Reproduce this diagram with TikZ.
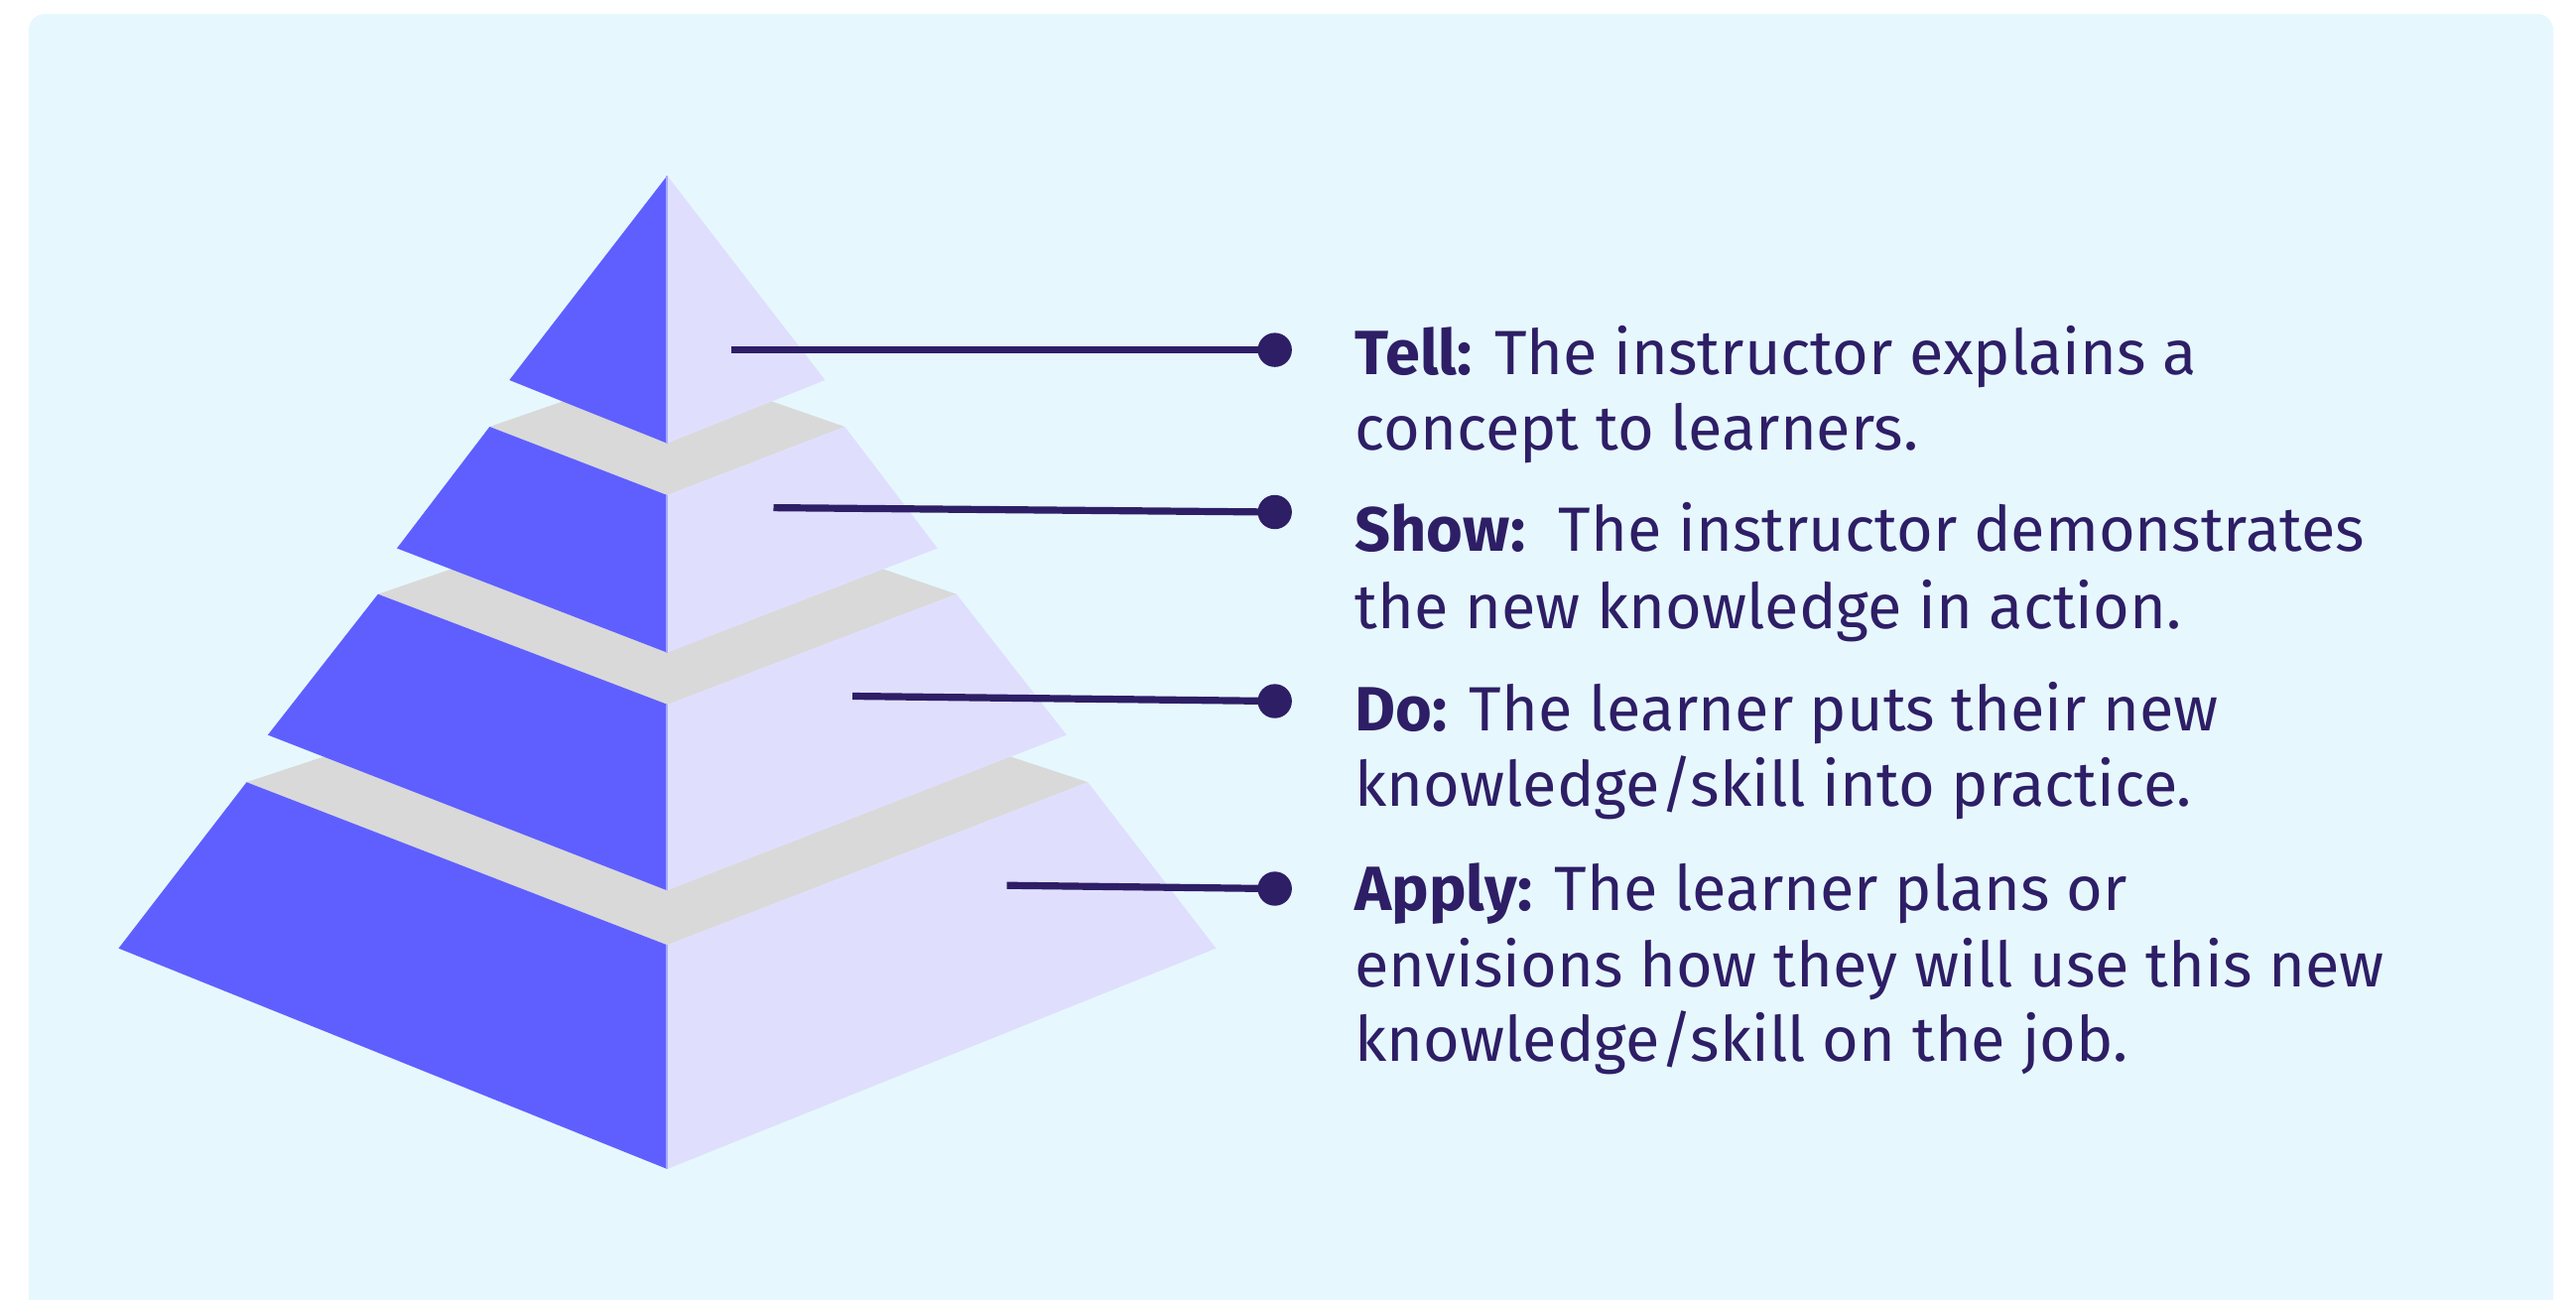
\documentclass[tikz,border=0pt]{standalone}
\usepackage{fontspec}
\setmainfont{Fira Sans}
\definecolor{bgcol}{HTML}{E6F8FD}
\definecolor{blueface}{HTML}{5F5FFF}
\definecolor{lavface}{HTML}{DFDFFD}
\definecolor{greyface}{HTML}{D9D9D9}
\definecolor{seamcol}{HTML}{A9A9FA}
\definecolor{navy}{HTML}{2E1E66}
\begin{document}
\begin{tikzpicture}[x=0.25pt,y=-0.25pt,
  leftface/.style={fill=blueface},
  rightface/.style={fill=lavface},
  topface/.style={fill=greyface},
  seam/.style={draw=seamcol,line width=0.5pt},
  connector/.style={draw=navy,line width=1.8pt},
  enddot/.style={circle,fill=navy,inner sep=0pt,minimum size=8.6pt},
  desc/.style={anchor=base west,inner sep=0pt,text=navy,font=\fontsize{15.75pt}{19pt}\selectfont}]
\useasboundingbox (0,0) rectangle (2596,1309);
\begin{scope}
\clip (0,0) rectangle (2596,1309);
\fill[bgcol,rounded corners=4pt] (29,14) rectangle (2573,1330);
\end{scope}
% Tier 4 (Apply)
\fill[topface] (248.5,788.2) -- (672.4,648) -- (1096.3,788.2) -- (672.4,952.3) -- cycle;
\fill[leftface] (248.5,788.2) -- (672.4,952.3) -- (672.4,1178) -- (119.5,955.6) -- cycle;
\fill[rightface] (1096.3,788.2) -- (672.4,952.3) -- (672.4,1178) -- (1225.5,955.6) -- cycle;
\draw[seam] (672.4,952.3) -- (672.4,1178);
% Tier 3 (Do)
\fill[topface] (380.9,598.7) -- (672.4,499) -- (963.9,598.7) -- (672.4,709.8) -- cycle;
\fill[leftface] (380.9,598.7) -- (672.4,709.8) -- (672.4,897.3) -- (269.9,740.6) -- cycle;
\fill[rightface] (963.9,598.7) -- (672.4,709.8) -- (672.4,897.3) -- (1074.9,740.6) -- cycle;
\draw[seam] (672.4,709.8) -- (672.4,897.3);
% Tier 2 (Show)
\fill[topface] (493.4,430) -- (672.4,368) -- (851.4,430) -- (672.4,499) -- cycle;
\fill[leftface] (493.4,430) -- (672.4,499) -- (672.4,657.6) -- (400,552.5) -- cycle;
\fill[rightface] (851.4,430) -- (672.4,499) -- (672.4,657.6) -- (944.8,552.5) -- cycle;
\draw[seam] (672.4,499) -- (672.4,657.6);
% Tier 1 (Tell)
\fill[leftface] (672.4,177) -- (513.3,383) -- (672.4,446.7) -- cycle;
\fill[rightface] (672.4,177) -- (831.5,383) -- (672.4,446.7) -- cycle;
\draw[seam] (672.4,177) -- (672.4,446.7);
% connectors
\coordinate (tellS) at (736.5,352.6);
\coordinate (showS) at (779.5,511.6);
\coordinate (doS) at (859.2,701.5);
\coordinate (applyS) at (1014.7,892.2);
\node[enddot] (tellD) at (1284.7,352.6) {};
\node[enddot] (showD) at (1284.7,516) {};
\node[enddot] (doD) at (1284.7,706.5) {};
\node[enddot] (applyD) at (1284.7,895.5) {};
\draw[connector] (tellS) -- (tellD.center);
\draw[connector] (showS) -- (showD.center);
\draw[connector] (doS) -- (doD.center);
\draw[connector] (applyS) -- (applyD.center);
% texts
\node[desc] (tellA) at (1364.8,377.5) {\textbf{Tell:} The instructor explains a};
\node[desc] (tellB) at (1364.8,453.5) {concept to learners.};
\node[desc] (showA) at (1364.8,555.5) {\textbf{Show:}\ \ The instructor demonstrates};
\node[desc] (showB) at (1364.8,633) {the new knowledge in action.};
\node[desc] (doA) at (1364.8,736) {\textbf{Do:} The learner puts their new};
\node[desc] (doB) at (1364.8,812.5) {knowledge/skill into practice.};
\node[desc] (applyA) at (1364.8,917) {\textbf{Apply:} The learner plans or};
\node[desc] (applyB) at (1364.8,994) {envisions how they will use this new};
\node[desc] (applyC) at (1364.8,1069.5) {knowledge/skill on the job.};
\end{tikzpicture}
\end{document}
